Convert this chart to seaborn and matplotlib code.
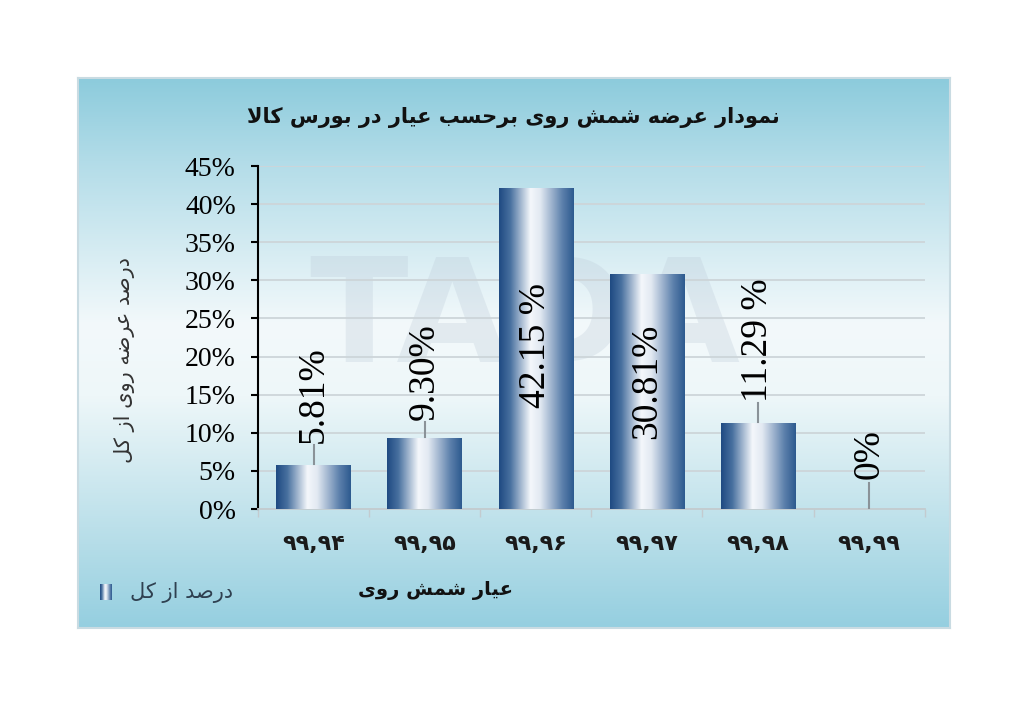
import numpy as np
import pandas as pd
import seaborn as sns
import matplotlib.pyplot as plt
from matplotlib.colors import LinearSegmentedColormap

# data
categories = ["۹۹,۹۴", "۹۹,۹۵", "۹۹,۹۶", "۹۹,۹۷", "۹۹,۹۸", "۹۹,۹۹"]
values = [0.0581, 0.0930, 0.4215, 0.3081, 0.1129, 0.0]
value_labels = ["5.81%", "9.30%", "42.15 %", "30.81%", "11.29 %", "0%"]
y_ticks = [0, 0.05, 0.10, 0.15, 0.20, 0.25, 0.30, 0.35, 0.40, 0.45]
y_tick_labels = ["0%", "5%", "10%", "15%", "20%", "25%", "30%", "35%", "40%", "45%"]

title = "نمودار عرضه شمش روی برحسب عیار در بورس کالا"
x_title = "عیار شمش روی"
y_title = "درصد عرضه روی از کل"
legend_label = "درصد از کل"

# label layout (centre of rotated label, end of leader line)
label_y = [0.150, 0.180, 0.215, 0.167, 0.222, 0.072]
leader_end = [0.084, 0.114, None, None, 0.139, 0.034]

# minimal Persian shaping (matplotlib has no text shaping)
FORMS = {
    'ا': ('\uFE8D', '\uFE8E', None, None),
    'ب': ('\uFE8F', '\uFE90', '\uFE91', '\uFE92'),
    'ح': ('\uFEA1', '\uFEA2', '\uFEA3', '\uFEA4'),
    'د': ('\uFEA9', '\uFEAA', None, None),
    'ر': ('\uFEAD', '\uFEAE', None, None),
    'ز': ('\uFEAF', '\uFEB0', None, None),
    'س': ('\uFEB1', '\uFEB2', '\uFEB3', '\uFEB4'),
    'ش': ('\uFEB5', '\uFEB6', '\uFEB7', '\uFEB8'),
    'ص': ('\uFEB9', '\uFEBA', '\uFEBB', '\uFEBC'),
    'ض': ('\uFEBD', '\uFEBE', '\uFEBF', '\uFEC0'),
    'ع': ('\uFEC9', '\uFECA', '\uFECB', '\uFECC'),
    'ل': ('\uFEDD', '\uFEDE', '\uFEDF', '\uFEE0'),
    'م': ('\uFEE1', '\uFEE2', '\uFEE3', '\uFEE4'),
    'ن': ('\uFEE5', '\uFEE6', '\uFEE7', '\uFEE8'),
    'ه': ('\uFEE9', '\uFEEA', '\uFEEB', '\uFEEC'),
    'و': ('\uFEED', '\uFEEE', None, None),
    'ی': ('\uFBFC', '\uFBFD', '\uFBFE', '\uFBFF'),
    'ک': ('\uFB8E', '\uFB8F', '\uFB90', '\uFB91'),
}


def fa(text):
    chars = list(text)
    out = []
    i = 0
    while i < len(chars):
        ch = chars[i]
        if ch not in FORMS:
            out.append(ch)
            i += 1
            continue
        prev_join = i > 0 and chars[i - 1] in FORMS and FORMS[chars[i - 1]][2] is not None
        if ch == 'ل' and i + 1 < len(chars) and chars[i + 1] == 'ا':
            out.append('\uFEFC' if prev_join else '\uFEFB')
            i += 2
            continue
        iso, fin, ini, med = FORMS[ch]
        can_next = ini is not None and i + 1 < len(chars) and chars[i + 1] in FORMS
        if prev_join and can_next:
            out.append(med)
        elif prev_join:
            out.append(fin)
        elif can_next:
            out.append(ini)
        else:
            out.append(iso)
        i += 1
    return ''.join(reversed(out))


df = pd.DataFrame({"grade": categories, "share": values})

fig = plt.figure(figsize=(10.24, 7.05), dpi=100)
fig.patch.set_facecolor("white")

# blue panel with light centre
bg = fig.add_axes([0.0762, 0.1092, 0.8515, 0.7802])
bg_cmap = LinearSegmentedColormap.from_list("bg", [
    (0.0, "#8ccbdc"), (0.15, "#b2dce8"), (0.45, "#f3f9fb"),
    (0.58, "#eef7f9"), (0.85, "#b5dde8"), (1.0, "#95cfe0")])
grad = np.linspace(0, 1, 256).reshape(-1, 1)
bg.imshow(grad, cmap=bg_cmap, aspect="auto", extent=(0, 1, 0, 1), origin="upper")
bg.set_xticks([])
bg.set_yticks([])
for s in bg.spines.values():
    s.set_color("#c9dbe2")
    s.set_linewidth(1.5)

ax = fig.add_axes([0.252, 0.278, 0.651, 0.4865])
ax.set_facecolor("none")

# faint watermark
ax.text(1.9, 0.245, "TADA", fontsize=104, fontweight="bold", color="#b9c7d6",
        alpha=0.28, ha="center", va="center", zorder=0, family="DejaVu Sans")

sns.barplot(data=df, x="grade", y="share", width=0.67, color="#3a6396",
            ax=ax, zorder=3)

bar_cmap = LinearSegmentedColormap.from_list("bar", [
    (0.0, "#1f4a82"), (0.15, "#48709f"), (0.42, "#f4f7fb"),
    (0.55, "#e2e9f2"), (0.85, "#5b7fab"), (1.0, "#2d5a8f")])
hgrad = np.linspace(0, 1, 256).reshape(1, -1)
for p in ax.patches:
    x0, y0 = p.get_x(), p.get_y()
    w, h = p.get_width(), p.get_height()
    if h <= 0:
        p.set_visible(False)
        continue
    im = ax.imshow(hgrad, cmap=bar_cmap, aspect="auto",
                   extent=(x0, x0 + w, y0, y0 + h), zorder=3)
    im.set_clip_path(p)
    p.set_facecolor("none")
    p.set_edgecolor("none")

ax.set_xlim(-0.5, 5.5)
ax.set_ylim(0, 0.45)

# data labels with leader lines
for i, (lab, ly, le) in enumerate(zip(value_labels, label_y, leader_end)):
    ax.text(i, ly, lab, rotation=90, ha="center", va="center", fontsize=27,
            family="Liberation Serif", color="black", zorder=5)
    if le is not None:
        ax.plot([i, i], [values[i] + 0.001, le], color="#8a9298", lw=1.5, zorder=4)

ax.set_yticks(y_ticks)
ax.set_yticklabels(y_tick_labels, family="Liberation Serif", fontsize=20)
ax.yaxis.grid(True, color="#cdd5d9", lw=1.3, zorder=1)
ax.set_axisbelow(True)
ax.tick_params(axis="y", length=5, width=1.5, color="black", pad=11)

ax.set_xticks(range(len(categories)))
ax.set_xticklabels(categories, family="DejaVu Sans", fontsize=16,
                   fontweight="bold", color="#1a1a1a")
ax.set_xticks(np.arange(-0.5, 6, 1), minor=True)
ax.tick_params(axis="x", which="major", length=0, pad=18)
ax.tick_params(axis="x", which="minor", length=6, color="#c3cbcf", width=1)

ax.set_xlabel("")
ax.set_ylabel("")
for s in ["top", "right"]:
    ax.spines[s].set_visible(False)
ax.spines["left"].set_color("black")
ax.spines["left"].set_linewidth(1.5)
ax.spines["bottom"].set_color("#c3cbcf")
ax.spines["bottom"].set_linewidth(1.3)

# titles
fig.text(0.501, 0.833, fa(title), ha="center", va="center", fontsize=15,
         fontweight="bold", family="DejaVu Sans", color="#111111")
fig.text(0.425, 0.163, fa(x_title), ha="center", va="center", fontsize=14,
         fontweight="bold", family="DejaVu Sans", color="#111111")
fig.text(0.122, 0.489, fa(y_title), ha="center", va="center", fontsize=15,
         rotation=90, family="DejaVu Sans", color="#333333")

# legend: gradient swatch + label
icon = fig.add_axes([0.0977, 0.149, 0.0117, 0.022])
icon.imshow(hgrad, cmap=bar_cmap, aspect="auto")
icon.axis("off")
fig.text(0.177, 0.160, fa(legend_label), ha="center", va="center", fontsize=15,
         family="DejaVu Sans", color="#2f4050")

fig.savefig("out.png", dpi=100)
